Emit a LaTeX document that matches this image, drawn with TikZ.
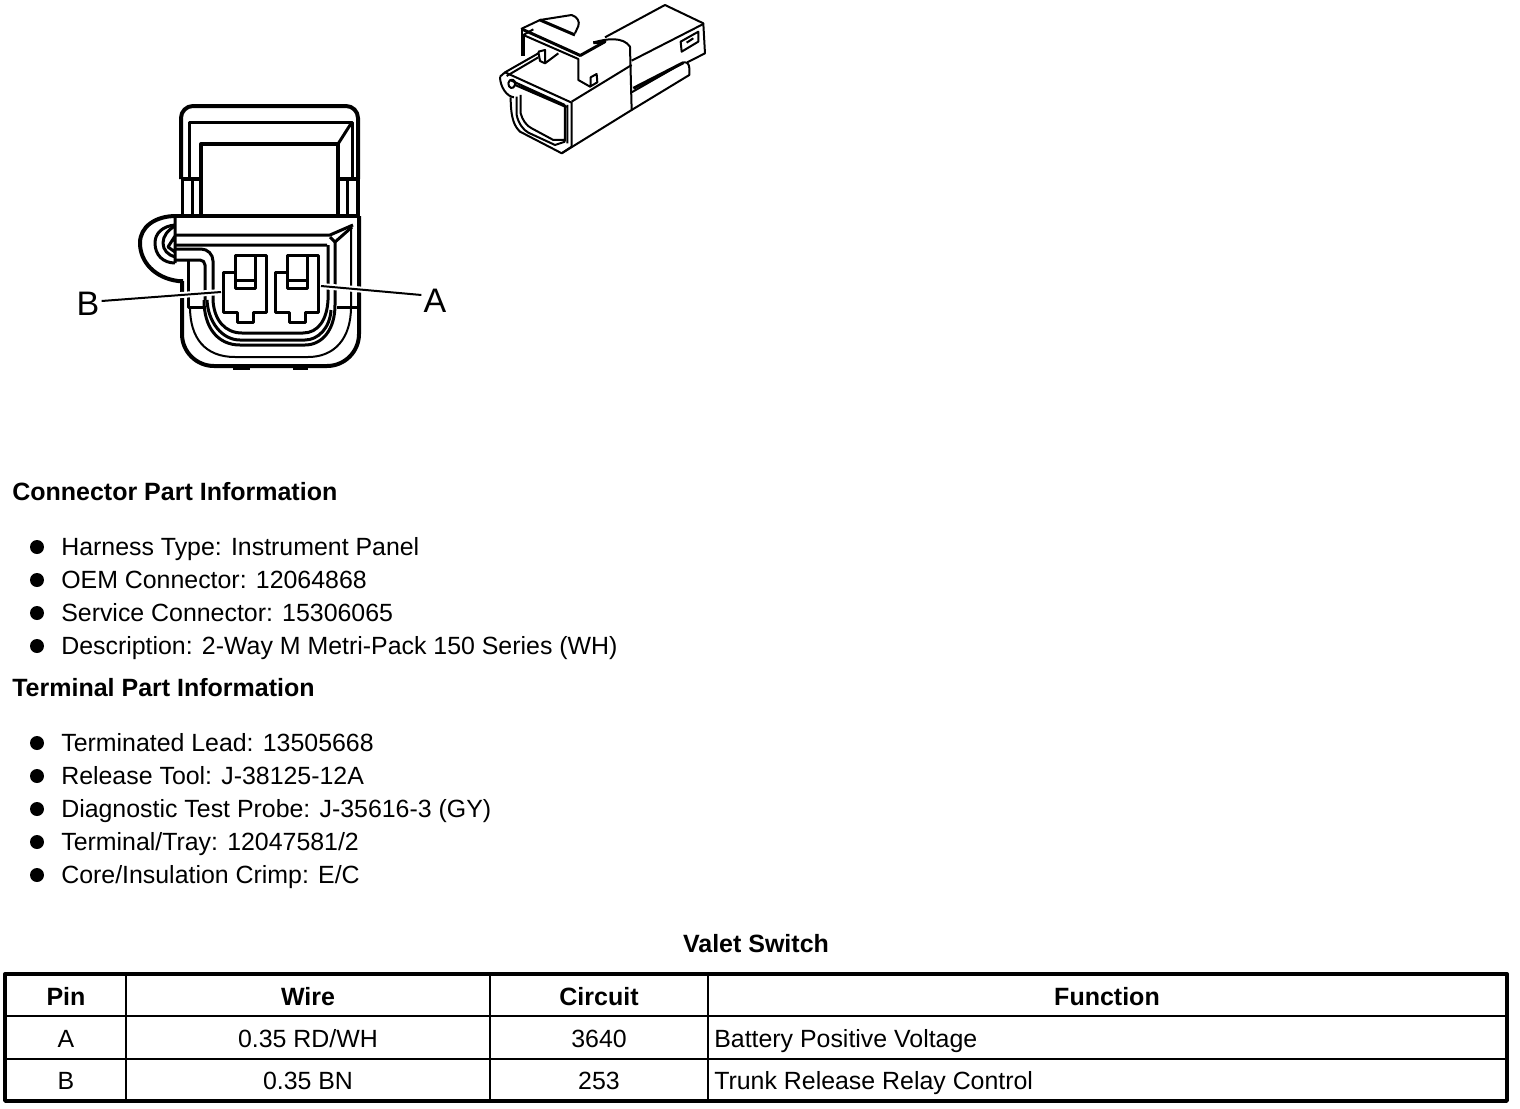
\documentclass[tikz,border=0pt]{standalone}
\usepackage{fontspec}
\setmainfont{Liberation Sans}
\usetikzlibrary{arrows, positioning}

\begin{document}
\begin{tikzpicture}[x=1pt, y=-1pt, line join=round, semithick]
        \tikzstyle{heavy}=[draw=black, line width=4pt]
        \tikzstyle{medium}=[draw=black, line width=3pt]
        \tikzstyle{fine}=[draw=black, line width=2pt]
        \tikzstyle{halo}=[draw=white, line width=6pt]
        \tikzstyle{pinlabel}=[inner sep=0pt, font=\fontsize{34}{40}\selectfont]
        \tikzstyle{heading}=[anchor=base west, inner sep=0pt, font=\fontsize{25}{30}\selectfont\bfseries]
        \tikzstyle{item}=[anchor=base west, inner sep=0pt, font=\fontsize{24.9}{30}\selectfont]
        \tikzstyle{dot}=[circle, fill=black, inner sep=0pt, minimum size=14pt]
        \tikzstyle{cell}=[anchor=base, inner sep=0pt, font=\fontsize{24.9}{30}\selectfont]
        \tikzstyle{headcell}=[anchor=base, inner sep=0pt, font=\fontsize{25}{30}\selectfont\bfseries]

        \useasboundingbox (0,0) rectangle (1520,1108);

        % front view of the connector
        \draw[heavy, rounded corners=12pt] (181,179) -- (181,106) -- (358,106) -- (358,179);
        \draw[medium] (189,179) -- (189,122) -- (352,122) -- (352,179);
        \draw[heavy] (201,216) -- (201,144) -- (338,144) -- (338,216);
        \draw[medium] (338,144) -- (352,122);
        \draw[heavy] (181,179) -- (201,179) (338,179) -- (358,179);
        \draw[medium] (182,179) -- (182,216) (192,179) -- (192,216) (347,179) -- (347,216);
        \draw[heavy] (358,179) -- (358,216);
        \draw[heavy] (175,216) -- (360,216);

        % hook and outer body
        \draw[heavy, rounded corners=32pt] (359,216) -- (359,366) -- (182,366) -- (182,281);
        \draw[heavy] (183,281) -- (178,281) .. controls (155,278) and (140,262) .. (140,243) .. controls (140,227) and (155,216) .. (176,216);
        \draw[medium] (175,225) .. controls (163,226) and (155,233) .. (155,243) .. controls (155,255) and (163,263) .. (175,263);
        \draw[medium] (175,226) .. controls (168,230) and (163,236) .. (163,243) .. controls (163,250) and (168,255) .. (175,257);
        \draw[medium] (175,216) -- (175,263) (175,236) -- (168,247) -- (175,252);
        \draw[medium] (175,235) -- (330,235) -- (353,225) (175,245) -- (327,245);
        \draw[medium] (330,237) -- (335,242) -- (352,227);
        \draw[heavy] (233,368) -- (250,368) (293,368) -- (308,368);

        % tube round the terminals
        \draw[medium, rounded corners=12pt] (175,249) -- (213,249) -- (213,300);
        \draw[medium, rounded corners=5pt] (175,260) -- (205,260) -- (205,300);
        \draw[medium] (188,260) -- (188,307) -- (203,307) (337,307) -- (358,307);
        \draw[fine] (190,307) .. controls (190,338) and (205,357) .. (235,357) -- (308,357) .. controls (335,357) and (351,338) .. (351,307) -- (351,227);
        \draw[medium] (204,300) .. controls (204,328) and (218,345) .. (240,345) -- (305,345) .. controls (322,345) and (335,330) .. (335,305) -- (335,242);
        \draw[medium] (207,300) .. controls (208,322) and (222,340) .. (240,340) -- (305,340) .. controls (318,340) and (330,328) .. (331,310);
        \draw[medium] (213,300) .. controls (214,320) and (225,333) .. (242,333) -- (303,333) .. controls (318,333) and (327,320) .. (328,300) -- (328,245);

        % the two terminals
        \foreach \dx in {0,52}{
            \draw[medium, fill=white, shift={(\dx,0)}] (223,272) -- (235,272) -- (235,255) -- (266,255) -- (266,312) -- (253,312) -- (253,322) -- (237,322) -- (237,312) -- (223,312) -- cycle;
            \draw[medium, shift={(\dx,0)}] (255,255) -- (255,288) -- (235,288) -- (235,272) (235,280) -- (255,280);
        }
        \coordinate (pinB) at (221,292);
        \coordinate (pinA) at (321,286);
        \node[pinlabel] (labelB) at (88,304) {B};
        \node[pinlabel] (labelA) at (435,301) {A};
        \draw[halo] (labelB.east) ++(2,-3) -- (pinB);
        \draw[halo] (labelA.west) ++(-2,-6) -- (pinA);
        \draw[fine] (labelB.east) ++(2,-3) -- (pinB);
        \draw[fine] (labelA.west) ++(-2,-6) -- (pinA);

        % small view of the connector
        \begin{scope}[shift={(490,0)}, x=0.3333pt, y=-0.3333pt]
            \draw[fine] (345,112) -- (525,15) -- (640,70) -- (645,160) -- (592,187);
            \draw[fine] (425,182) -- (640,72);
            \draw[fine] (572,125) -- (625,95) -- (625,125) -- (575,155) -- cycle (590,128) -- (610,115);
            \draw[fine] (425,277) -- (582,187) .. controls (595,185) and (600,195) .. (598,225) -- (425,330);
            \draw[medium] (430,265) -- (580,188);
            \draw[fine] (310,128) .. controls (350,115) and (400,110) .. (420,140) -- (425,330) -- (215,460);
            \draw[fine] (245,305) -- (425,195);
            \draw[medium] (270,167) -- (345,125) -- (310,128);
            \draw[fine] (93,87) -- (150,60) -- (245,45) .. controls (262,50) and (270,65) .. (265,78) -- (255,100);
            \draw[medium] (150,60) -- (255,105);
            \draw[medium] (95,87) -- (272,167);
            \draw[fine] (100,105) -- (130,88) (100,105) -- (265,177) -- (265,240) -- (300,260) -- (322,247) -- (320,222) -- (302,232) -- (302,258);
            \draw[heavy] (98,105) -- (98,168);
            \draw[fine] (95,87) -- (95,165);
            \draw[fine] (145,155) -- (165,150) -- (165,190) -- (205,160) (145,155) -- (150,183) -- (165,190);
            \draw[fine] (30,230) -- (45,217) -- (145,160) (50,228) -- (145,172);
            \draw[fine] (30,230) .. controls (30,260) and (50,290) .. (72,292);
            \draw[fine] (45,217) -- (245,308) -- (245,440) -- (215,460) -- (200,452) -- (90,395) .. controls (75,380) and (62,360) .. (62,292);
            \draw[fine] (55,250) .. controls (60,230) and (80,240) .. (75,255) .. controls (70,270) and (55,265) .. (55,250);
            \draw[fine] (60,240) -- (225,315) (75,255) -- (230,322);
            \draw[fine] (80,290) -- (80,345) .. controls (85,370) and (100,390) .. (115,398) -- (195,435) -- (225,425);
            \draw[fine] (92,285) -- (92,340) .. controls (97,360) and (110,378) .. (125,385) -- (190,420) -- (225,420) (232,315) -- (232,430) (225,315) -- (225,425);
        \end{scope}

        % part information lists
        \node[heading] (connhead) at (12,500) {Connector Part Information};
        \foreach \y/\name/\txt in {555/harness/{Harness Type: Instrument Panel},
                                   588/oem/{OEM Connector: 12064868},
                                   621/service/{Service Connector: 15306065},
                                   654/desc/{Description: 2-Way M Metri-Pack 150 Series (WH)}}{
            \node[dot] (\name dot) at (37,\y-8) {};
            \node[item] (\name) at (61,\y) {\txt};
        }
        \node[heading] (termhead) at (12,696) {Terminal Part Information};
        \foreach \y/\name/\txt in {751/lead/{Terminated Lead: 13505668},
                                   784/tool/{Release Tool: J-38125-12A},
                                   817/probe/{Diagnostic Test Probe: J-35616-3 (GY)},
                                   850/tray/{Terminal/Tray: 12047581/2},
                                   883/crimp/{Core/Insulation Crimp: E/C}}{
            \node[dot] (\name dot) at (37,\y-8) {};
            \node[item] (\name) at (61,\y) {\txt};
        }

        % table
        \node[headcell] (title) at (756,952) {Valet Switch};
        \draw[draw=black, line width=3.4pt] (5,974) rectangle (1507,1101);
        \draw[draw=black, line width=2.6pt] (5,1016) -- (1507,1016) (5,1059) -- (1507,1059);
        \draw[draw=black, line width=1.2pt] (126,974) -- (126,1101) (490,974) -- (490,1101) (708,974) -- (708,1101);
        \node[headcell] (hpin) at (66,1005) {Pin};
        \node[headcell] (hwire) at (308,1005) {Wire};
        \node[headcell] (hcircuit) at (599,1005) {Circuit};
        \node[headcell] (hfunction) at (1107,1005) {Function};
        \node[cell] (pina) at (66,1047) {A};
        \node[cell] (wirea) at (308,1047) {0.35 RD/WH};
        \node[cell] (circuita) at (599,1047) {3640};
        \node[item] (funca) at (714,1047) {Battery Positive Voltage};
        \node[cell] (pinb) at (66,1089) {B};
        \node[cell] (wireb) at (308,1089) {0.35 BN};
        \node[cell] (circuitb) at (599,1089) {253};
        \node[item] (funcb) at (714,1089) {Trunk Release Relay Control};
\end{tikzpicture}
\end{document}
